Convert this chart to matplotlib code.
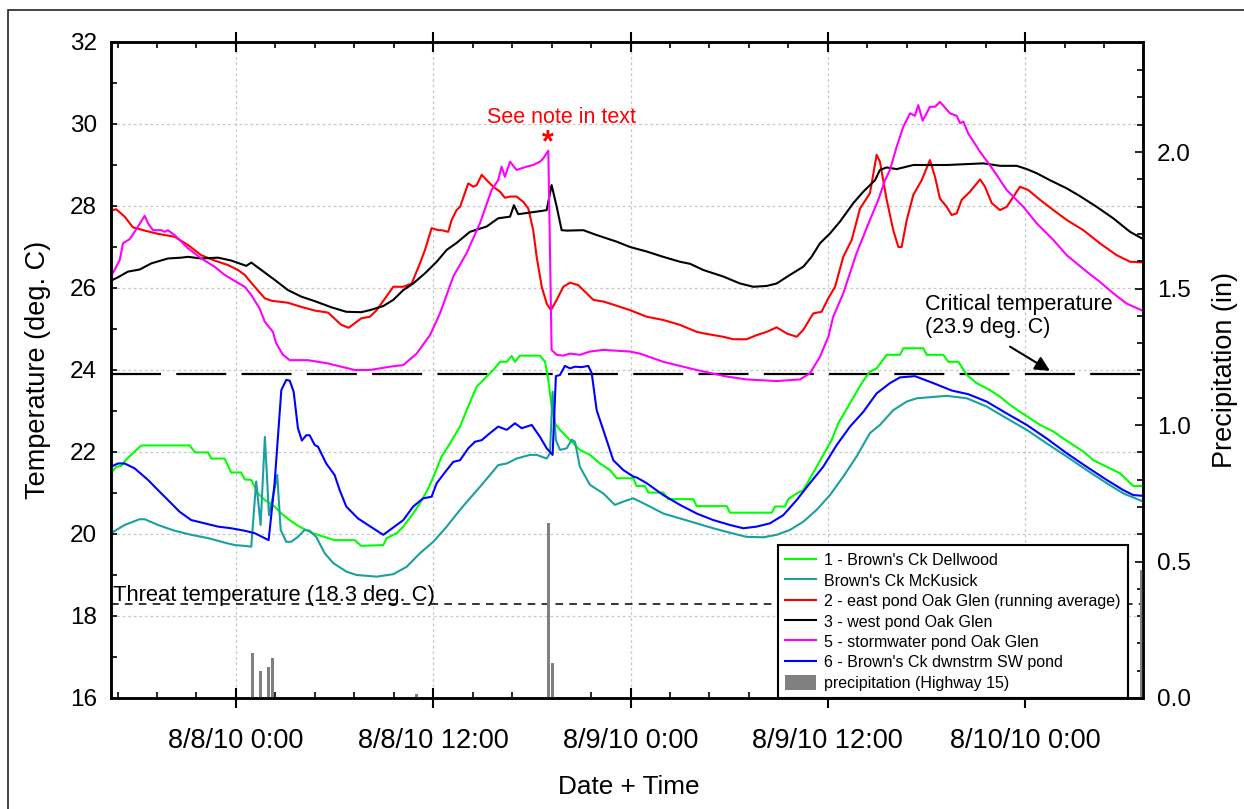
import matplotlib
matplotlib.use('Agg')

import matplotlib.pyplot as plt
import matplotlib.patches as patches
from matplotlib.ticker import MultipleLocator, FormatStrFormatter
import numpy as np
import pandas as pd

plt.rcParams['font.family'] = ['Liberation Sans', 'DejaVu Sans']
plt.rcParams['lines.scale_dashes'] = False

# time axis: hours after 8/8/10 0:00
base = pd.Timestamp('2010-08-08 00:00')

# 1 - Brown's Ck Dellwood
t_dell = [-7.6, -7.28, -6.98, -6.67, -6.27, -5.76, -2.82, -2.48, -1.70, -1.50, -0.69, -0.29, 0.32, 0.53,
          0.93, 1.34, 1.75, 2.35, 2.76, 3.27, 3.77, 4.58, 6.00, 7.22, 7.62, 8.96, 9.17, 9.78, 10.18, 10.78,
          11.19, 11.70, 12.10, 12.51, 13.02, 13.63, 14.03, 14.64, 15.25, 15.65, 16.06, 16.47, 16.77, 16.97,
          17.27, 18.49, 18.80, 19.00, 19.20, 19.40, 19.71, 20.32, 20.92, 21.53, 22.14, 22.75, 23.16, 24.17,
          24.37, 24.88, 25.08, 25.99, 26.30, 27.82, 28.02, 29.85, 30.05, 32.59, 32.79, 33.39, 33.59, 34.11,
          34.51, 35.32, 36.23, 36.64, 37.35, 38.06, 38.56, 38.97, 39.58, 40.39, 40.59, 41.81, 42.01, 43.02,
          43.33, 43.94, 44.45, 45.05, 45.86, 46.47, 47.08, 47.69, 48.30, 48.91, 49.72, 50.32, 50.93, 51.54,
          52.15, 52.96, 53.77, 54.58, 55.29]
v_dell = [21.48, 21.64, 21.66, 21.82, 21.97, 22.16, 22.16, 21.99, 21.99, 21.84, 21.84, 21.50, 21.50, 21.33,
          21.32, 20.99, 20.83, 20.67, 20.50, 20.34, 20.20, 20.03, 19.85, 19.85, 19.71, 19.73, 19.90, 20.02,
          20.18, 20.50, 20.75, 21.11, 21.48, 21.89, 22.21, 22.62, 23.02, 23.59, 23.84, 24.00, 24.20, 24.20,
          24.34, 24.20, 24.35, 24.35, 24.20, 23.76, 23.11, 22.70, 22.54, 22.29, 22.05, 21.93, 21.72, 21.56,
          21.36, 21.36, 21.17, 21.17, 21.01, 21.01, 20.85, 20.85, 20.68, 20.68, 20.52, 20.52, 20.67, 20.67,
          20.85, 20.99, 21.07, 21.64, 22.29, 22.70, 23.19, 23.68, 23.96, 24.04, 24.37, 24.37, 24.53, 24.53,
          24.37, 24.37, 24.20, 24.20, 23.88, 23.68, 23.51, 23.35, 23.15, 22.98, 22.82, 22.66, 22.50, 22.33,
          22.17, 22.01, 21.80, 21.64, 21.48, 21.17, 21.17]

# Brown's Ck McKusick
t_mck = [-7.6, -6.77, -5.86, -5.55, -4.74, -3.73, -2.72, -1.70, -0.69, -0.08, 0.53, 0.93, 1.23, 1.50, 1.76,
         2.01, 2.29, 2.51, 2.72, 3.06, 3.36, 3.77, 4.18, 4.48, 4.88, 5.40, 5.92, 6.73, 7.34, 8.56, 9.57,
         10.38, 11.19, 12.00, 12.82, 13.63, 14.23, 14.84, 15.45, 15.95, 16.47, 17.07, 17.88, 18.29, 18.90,
         19.10, 19.26, 19.46, 19.71, 20.12, 20.42, 20.62, 20.92, 21.53, 22.34, 23.05, 23.56, 24.17, 24.98,
         25.99, 27.01, 28.02, 29.03, 30.05, 31.06, 32.07, 32.89, 33.70, 34.51, 35.32, 36.13, 36.94, 37.75,
         38.56, 39.17, 39.98, 40.80, 41.41, 43.23, 44.45, 45.66, 46.88, 48.10, 49.31, 50.53, 51.74, 52.96,
         53.97, 55.19]
v_mck = [20.02, 20.22, 20.36, 20.36, 20.22, 20.08, 19.98, 19.90, 19.79, 19.73, 19.71, 19.69, 21.28, 20.22,
         22.37, 20.46, 20.99, 21.44, 20.10, 19.81, 19.81, 19.93, 20.10, 20.08, 19.93, 19.53, 19.29, 19.08,
         19.00, 18.96, 19.02, 19.20, 19.53, 19.81, 20.18, 20.59, 20.87, 21.15, 21.44, 21.68, 21.72, 21.84,
         21.93, 21.93, 21.84, 21.97, 23.47, 22.29, 22.05, 22.09, 22.30, 22.25, 21.64, 21.20, 20.99, 20.71,
         20.79, 20.87, 20.71, 20.50, 20.38, 20.26, 20.14, 20.03, 19.93, 19.92, 19.98, 20.10, 20.30, 20.59,
         20.95, 21.40, 21.89, 22.46, 22.66, 23.02, 23.23, 23.31, 23.37, 23.31, 23.11, 22.82, 22.54, 22.21,
         21.89, 21.56, 21.24, 20.99, 20.79]

# 2 - east pond Oak Glen (running average)
t_east = [-7.6, -7.28, -6.77, -6.27, -5.55, -4.74, -3.73, -2.92, -2.11, -1.30, -0.49, 0.12, 0.53, 1.14,
          1.75, 2.15, 3.16, 3.97, 4.79, 5.60, 6.41, 6.86, 7.62, 8.15, 8.56, 9.57, 10.18, 10.69, 11.19, 11.50,
          11.90, 12.31, 12.51, 12.91, 13.12, 13.42, 13.63, 14.13, 14.44, 14.64, 14.95, 15.35, 15.65, 16.06,
          16.36, 16.67, 17.07, 17.48, 17.78, 18.08, 18.29, 18.60, 18.90, 19.16, 19.51, 19.91, 20.32, 20.82,
          21.23, 21.74, 22.34, 22.75, 23.36, 23.97, 24.98, 25.99, 27.01, 28.02, 28.63, 29.64, 30.25, 31.06,
          31.67, 32.28, 32.89, 33.50, 34.11, 34.51, 35.11, 35.62, 36.03, 36.44, 36.94, 37.45, 37.96, 38.56,
          38.97, 39.17, 39.58, 39.98, 40.29, 40.49, 40.80, 41.20, 41.71, 42.21, 42.52, 42.82, 43.23, 43.53,
          43.84, 44.14, 44.65, 45.26, 45.56, 45.97, 46.47, 46.88, 47.69, 48.19, 48.91, 49.72, 50.53, 51.54,
          52.55, 53.57, 54.38, 55.29]
v_east = [27.89, 27.92, 27.74, 27.48, 27.40, 27.32, 27.25, 27.05, 26.80, 26.67, 26.56, 26.44, 26.32, 26.03,
          25.75, 25.69, 25.64, 25.54, 25.45, 25.40, 25.10, 25.03, 25.26, 25.30, 25.46, 26.03, 26.03, 26.11,
          26.60, 26.93, 27.46, 27.41, 27.41, 27.37, 27.66, 27.90, 27.98, 28.55, 28.47, 28.51, 28.76, 28.59,
          28.47, 28.35, 28.20, 28.23, 28.23, 28.10, 27.94, 27.41, 26.76, 26.03, 25.62, 25.46, 25.71, 26.03,
          26.13, 26.07, 25.91, 25.71, 25.67, 25.62, 25.54, 25.46, 25.30, 25.22, 25.10, 24.93, 24.88, 24.81,
          24.75, 24.75, 24.85, 24.93, 25.04, 24.89, 24.81, 24.98, 25.38, 25.42, 25.75, 26.03, 26.76, 27.17,
          27.94, 28.31, 29.25, 29.08, 28.15, 27.41, 27.00, 27.00, 27.66, 28.27, 28.63, 29.12, 28.71, 28.18,
          27.98, 27.78, 27.82, 28.15, 28.35, 28.65, 28.47, 28.07, 27.90, 27.98, 28.47, 28.39, 28.15, 27.90,
          27.66, 27.41, 27.09, 26.80, 26.64, 26.62]

# 3 - west pond Oak Glen
t_west = [-7.6, -7.18, -6.57, -5.86, -5.15, -4.14, -3.33, -2.92, -2.11, -1.09, -0.29, 0.63, 0.93, 1.54,
          2.35, 3.16, 3.97, 4.79, 5.80, 6.71, 7.62, 8.15, 8.96, 9.57, 10.18, 10.78, 11.50, 12.21, 12.82,
          13.42, 14.23, 15.25, 15.95, 16.67, 16.91, 17.17, 17.88, 18.60, 18.90, 19.20, 19.51, 19.81, 20.12,
          21.13, 21.74, 22.55, 23.16, 23.97, 24.98, 25.99, 27.01, 27.62, 28.42, 29.64, 30.66, 31.47, 32.28,
          32.89, 33.70, 34.51, 35.01, 35.52, 36.13, 36.74, 37.55, 38.16, 38.87, 39.17, 39.58, 40.19, 41.20,
          43.23, 45.46, 46.47, 47.49, 48.10, 48.70, 49.51, 50.53, 51.34, 52.35, 53.36, 54.38, 55.19]
v_west = [26.18, 26.26, 26.40, 26.45, 26.60, 26.72, 26.74, 26.76, 26.72, 26.74, 26.67, 26.54, 26.62, 26.44,
          26.20, 25.95, 25.79, 25.68, 25.53, 25.42, 25.41, 25.46, 25.56, 25.71, 25.95, 26.11, 26.36, 26.64,
          26.93, 27.10, 27.37, 27.50, 27.70, 27.74, 28.02, 27.80, 27.84, 27.88, 27.90, 28.51, 27.98, 27.41,
          27.40, 27.41, 27.32, 27.21, 27.13, 27.00, 26.89, 26.76, 26.64, 26.59, 26.44, 26.28, 26.11, 26.03,
          26.05, 26.11, 26.32, 26.52, 26.76, 27.09, 27.33, 27.62, 28.07, 28.35, 28.63, 28.88, 28.94, 28.90,
          29.00, 29.00, 29.04, 28.98, 28.98, 28.90, 28.80, 28.63, 28.43, 28.24, 27.98, 27.70, 27.37, 27.19]

# 5 - stormwater pond Oak Glen
t_storm = [-7.6, -7.07, -6.87, -6.47, -6.16, -5.55, -5.35, -5.05, -4.54, -4.34, -4.14, -3.73, -2.92, -2.11,
           -1.30, -0.69, 0.02, 0.53, 0.93, 1.44, 1.75, 2.25, 2.45, 2.86, 3.27, 4.38, 4.99, 5.60, 6.41, 7.22,
           8.15, 9.37, 10.18, 10.99, 11.80, 12.41, 13.22, 14.03, 14.84, 15.55, 15.95, 16.16, 16.36, 16.67,
           17.07, 17.68, 18.08, 18.49, 18.69, 19.00, 19.20, 19.51, 19.91, 20.32, 20.92, 21.53, 22.34, 23.97,
           24.57, 25.99, 28.02, 29.85, 31.06, 32.89, 34.31, 34.91, 35.52, 36.03, 36.33, 36.94, 37.75, 38.56,
           39.07, 39.48, 39.78, 40.19, 40.59, 41.00, 41.30, 41.50, 41.77, 42.21, 42.52, 42.82, 43.43, 43.84,
           44.04, 44.24, 44.54, 45.26, 46.06, 46.88, 47.89, 48.70, 49.72, 50.53, 51.74, 52.55, 53.36, 54.18,
           55.29]
v_storm = [26.28, 26.68, 27.09, 27.19, 27.37, 27.76, 27.58, 27.41, 27.41, 27.37, 27.41, 27.29, 26.97, 26.72,
           26.52, 26.32, 26.15, 26.03, 25.83, 25.50, 25.18, 24.93, 24.65, 24.37, 24.24, 24.24, 24.20, 24.16,
           24.08, 24.00, 24.00, 24.08, 24.12, 24.40, 24.85, 25.38, 26.28, 26.85, 27.58, 28.39, 28.63, 28.96,
           28.71, 29.08, 28.88, 28.96, 29.00, 29.08, 29.16, 29.35, 24.49, 24.37, 24.35, 24.40, 24.37, 24.45,
           24.49, 24.45, 24.40, 24.20, 24.00, 23.84, 23.77, 23.73, 23.77, 23.92, 24.32, 24.81, 25.30, 25.87,
           26.85, 27.66, 28.15, 28.63, 28.88, 29.45, 29.93, 30.26, 30.20, 30.46, 30.08, 30.42, 30.42, 30.54,
           30.26, 30.20, 30.02, 30.06, 29.77, 29.32, 28.88, 28.39, 27.98, 27.58, 27.17, 26.80, 26.40, 26.15,
           25.87, 25.62, 25.42]

# 6 - Brown's Ck dwnstrm SW pond
t_dwn = [-7.6, -7.18, -6.77, -6.16, -5.35, -4.74, -4.14, -3.42, -2.72, -1.90, -1.09, -0.29, 0.53, 1.14,
         1.99, 2.35, 2.76, 3.06, 3.27, 3.51, 3.77, 4.01, 4.28, 4.48, 4.79, 4.99, 5.49, 6.00, 6.31, 6.71,
         7.42, 8.03, 8.96, 9.37, 10.18, 10.78, 11.39, 11.90, 12.21, 12.82, 13.22, 13.63, 14.13, 14.54,
         14.95, 15.45, 15.95, 16.47, 16.97, 17.38, 17.99, 18.49, 18.90, 19.26, 19.46, 19.71, 20.01, 20.32,
         20.62, 21.03, 21.43, 21.64, 21.94, 22.34, 22.95, 23.56, 24.17, 24.37, 24.98, 25.99, 27.01, 28.02,
         29.03, 30.05, 30.86, 31.67, 32.48, 33.29, 34.11, 34.91, 35.72, 36.54, 37.35, 38.16, 38.97, 39.78,
         40.39, 41.30, 42.42, 43.53, 44.54, 45.66, 46.88, 48.10, 49.31, 50.53, 51.74, 52.96, 53.97, 54.58,
         55.19]
v_dwn = [21.64, 21.72, 21.72, 21.60, 21.32, 21.07, 20.83, 20.54, 20.34, 20.26, 20.18, 20.14, 20.08, 20.02,
         19.85, 21.24, 23.51, 23.76, 23.74, 23.47, 22.58, 22.28, 22.41, 22.41, 22.17, 22.13, 21.72, 21.44,
         21.07, 20.67, 20.38, 20.22, 19.98, 20.10, 20.34, 20.67, 20.87, 20.91, 21.24, 21.56, 21.76, 21.80,
         22.09, 22.25, 22.29, 22.46, 22.62, 22.54, 22.70, 22.58, 22.66, 22.37, 22.09, 21.93, 23.85, 23.88,
         24.10, 24.04, 24.08, 24.07, 24.10, 23.92, 23.02, 22.54, 21.80, 21.56, 21.40, 21.38, 21.24, 20.95,
         20.71, 20.50, 20.34, 20.22, 20.14, 20.18, 20.26, 20.46, 20.83, 21.24, 21.64, 22.17, 22.62, 22.98,
         23.43, 23.68, 23.82, 23.85, 23.68, 23.50, 23.41, 23.23, 22.94, 22.66, 22.33, 21.97, 21.64, 21.32,
         21.07, 20.95, 20.93]

# precipitation (Highway 15), inches
t_precip = [0.99, 1.48, 1.99, 2.23, 11.0, 19.0, 19.26, 55.05]
v_precip = [0.165, 0.10, 0.115, 0.145, 0.015, 0.64, 0.13, 0.47]

tick_times = ['2010-08-08 00:00', '2010-08-08 12:00', '2010-08-09 00:00',
              '2010-08-09 12:00', '2010-08-10 00:00']
tick_labels = ['8/8/10 0:00', '8/8/10 12:00', '8/9/10 0:00', '8/9/10 12:00', '8/10/10 0:00']

critical_temp = 23.9
threat_temp = 18.3


def to_dates(hours):
    return base + pd.to_timedelta(np.array(hours), unit='h')


fig = plt.figure(figsize=(12.44, 8.09), dpi=100)
ax = fig.add_axes([111 / 1244, 1 - 698 / 809, 1032 / 1244, 656 / 809])
ax2 = ax.twinx()

# outer frame
fig.patches.append(patches.Rectangle((8 / 1244, -0.02), 1.2, 1.02 - 10 / 809,
                                     transform=fig.transFigure, fill=False, lw=1.2,
                                     edgecolor='#222222'))

series = [
    (t_dell, v_dell, '#00ff00', "1 - Brown's Ck Dellwood"),
    (t_mck, v_mck, '#1aa0a0', "Brown's Ck McKusick"),
    (t_east, v_east, '#ff0000', '2 - east pond Oak Glen (running average)'),
    (t_west, v_west, '#000000', '3 - west pond Oak Glen'),
    (t_storm, v_storm, '#ff00ff', '5 - stormwater pond Oak Glen'),
    (t_dwn, v_dwn, '#0000ff', "6 - Brown's Ck dwnstrm SW pond"),
]
handles = []
for t, v, c, lab in series:
    ln, = ax.plot(to_dates(t), v, color=c, lw=1.5, label=lab, zorder=3)
    handles.append(ln)

ax.axhline(critical_temp, color='black', lw=1.6, dashes=(36, 11), zorder=2)
ax.axhline(threat_temp, color='black', lw=1.1, dashes=(5.5, 4.5), zorder=2)

bars = ax2.bar(to_dates(t_precip), v_precip, width=0.18 / 24, color='#808080',
               label='precipitation (Highway 15)', zorder=2)
handles.append(bars)

# axes
xmin, xmax = to_dates([-7.6, 55.17])
ax.set_xlim(xmin, xmax)
ax.set_ylim(16, 32)
ax2.set_ylim(0, 2.403)

ax.set_xticks(pd.to_datetime(tick_times), tick_labels)
ax.xaxis.set_minor_locator(MultipleLocator(0.1))
ax.yaxis.set_major_locator(MultipleLocator(2))
ax.yaxis.set_minor_locator(MultipleLocator(1))
ax2.yaxis.set_major_locator(MultipleLocator(0.5))
ax2.yaxis.set_minor_locator(MultipleLocator(0.1))
ax2.yaxis.set_major_formatter(FormatStrFormatter('%.1f'))

ax.tick_params(axis='x', which='major', direction='inout', length=15, width=1.5,
               labelsize=19.5, pad=14, top=True)
ax.tick_params(axis='x', which='minor', direction='in', length=4, width=1.2, top=True)
ax.tick_params(axis='y', which='both', direction='in', length=4, width=1.2, labelsize=17.5, pad=10)
ax2.tick_params(axis='y', which='major', direction='in', length=6, width=1.2, labelsize=17.5, pad=10)
ax2.tick_params(axis='y', which='minor', direction='in', length=4, width=1.2)

for a in (ax, ax2):
    for sp in a.spines.values():
        sp.set_linewidth(1.8)

ax.grid(True, which='major', color='#c8c8c8', linestyle=(0, (2, 2)), lw=0.9, zorder=0)
ax.set_axisbelow(True)

ax.set_ylabel('Temperature (deg. C)', fontsize=19.5, va='center')
ax.yaxis.set_label_coords(-0.0707, 0.5)
ax2.set_ylabel('Precipitation (in)', fontsize=19.5, va='center', rotation=90)
ax2.yaxis.set_label_coords(1.0795, 0.5)
ax.set_xlabel('Date + Time', fontsize=18.8, va='center')
ax.xaxis.set_label_coords(0.502, -0.1357)

# annotations
ax.text(to_dates([19.83])[0], 30.15, 'See note in text', color='red', fontsize=15.5,
        ha='center', va='center', zorder=5)
ax.text(to_dates([18.95])[0], 29.34, '*', color='red', fontsize=22, fontweight='bold',
        ha='center', va='baseline', zorder=5)
ax.text(to_dates([41.9])[0], 25.32, 'Critical temperature\n(23.9 deg. C)', fontsize=15.5,
        ha='left', va='center', linespacing=1.15, zorder=5)
ax.annotate('', xy=(to_dates([49.51])[0], 23.98), xytext=(to_dates([47.08])[0], 24.57),
            arrowprops=dict(arrowstyle='-|>', color='black', lw=1.5, mutation_scale=22,
                            shrinkA=0, shrinkB=0), zorder=5)
ax.text(to_dates([-7.48])[0], 18.37, 'Threat temperature (18.3 deg. C)', fontsize=15.8,
        ha='left', va='baseline', zorder=5)

leg = ax2.legend(handles, [h.get_label() for h in handles], loc='lower right',
                 bbox_to_anchor=(0.985, 0.0), fontsize=11.5, frameon=True, fancybox=False,
                 framealpha=1, edgecolor='black', borderaxespad=0, handlelength=1.9,
                 handleheight=1.1, handletextpad=0.5, labelspacing=0.27, borderpad=0.45)
leg.get_frame().set_linewidth(1.5)
leg.set_zorder(10)

fig.savefig('out.png', dpi=100)
